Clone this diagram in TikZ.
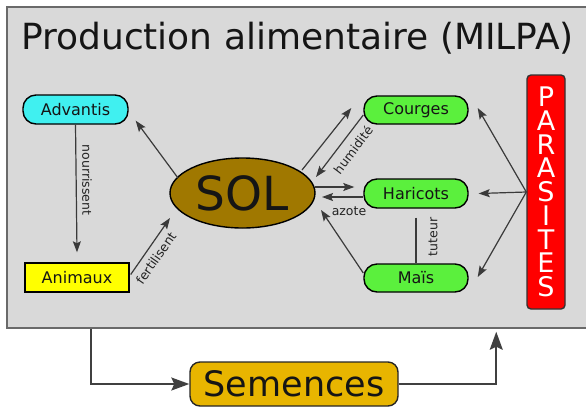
\documentclass[tikz,border=0pt]{standalone}
\usepackage{fontspec}
\setmainfont{DejaVu Sans}
\usetikzlibrary{arrows.meta,calc,shapes.geometric}
\definecolor{bggray}{HTML}{D9D9D9}
\definecolor{boxgray}{HTML}{6A6A6A}
\definecolor{advcyan}{HTML}{40F0F0}
\definecolor{aniyellow}{HTML}{FFFF00}
\definecolor{plantgreen}{HTML}{5BF03D}
\definecolor{solbrown}{HTML}{A07800}
\definecolor{semgold}{HTML}{E8B500}
\definecolor{parred}{HTML}{FF0000}
\definecolor{linkgray}{HTML}{3A3A3A}
\definecolor{darkline}{HTML}{404040}
\definecolor{labeltext}{HTML}{222222}
\definecolor{titletext}{HTML}{151515}
\begin{document}
\begin{tikzpicture}[x=1pt,y=-1pt,
  lnk/.style={draw=linkgray, line width=1.2pt, -{Stealth[length=11pt,width=8pt,inset=2pt]}},
  bigarrow/.style={draw=darkline, line width=1.8pt, -{Stealth[length=18pt,width=13pt,inset=3pt]}},
  pill/.style={draw=black, line width=1.4pt, rounded corners=13pt, minimum width=104pt, minimum height=29pt, inner sep=0pt, text=titletext, font=\fontsize{16}{18}\selectfont},
  lbl/.style={font=\fontsize{12.5}{14}\selectfont, text=labeltext, inner sep=1pt}
]
\useasboundingbox (0,0) rectangle (586,408);
% main frame
\node[draw=boxgray, line width=1.5pt, fill=bggray, minimum width=585pt, minimum height=321pt, inner sep=0pt] (box) at (299.5,167.5) {};
\node[anchor=base west, inner sep=0pt, text=titletext, font=\fontsize{36}{40}\selectfont] (title) at (21,49) {Production alimentaire (MILPA)};
% nodes
\node[pill, fill=advcyan, minimum width=105pt] (adv) at (75.5,109.5) {Advantis};
\node[draw=black, line width=1.4pt, fill=aniyellow, minimum width=104pt, minimum height=29pt, inner sep=0pt, text=titletext, font=\fontsize{16}{18}\selectfont] (ani) at (77,277.5) {Animaux};
\node[ellipse, draw=black, line width=1.4pt, fill=solbrown, minimum width=145pt, minimum height=70pt, inner sep=0pt, text=titletext, font=\fontsize{47}{50}\selectfont] (sol) at (242.5,193) {SOL};
\node[pill, fill=plantgreen, minimum height=28pt] (cou) at (416,110) {Courges};
\node[pill, fill=plantgreen] (har) at (416,193.5) {Haricots};
\node[pill, fill=plantgreen, minimum height=28pt] (mai) at (416,278) {Maïs};
\node[draw=black!80, line width=1.4pt, fill=parred, rounded corners=4pt, minimum width=38pt, minimum height=234pt, inner sep=0pt, text=white, align=center, font=\fontsize{27}{23.75}\selectfont] (par) at (546,192) {P\\A\\R\\A\\S\\I\\T\\E\\S};
\node[draw=black!85, line width=1.4pt, fill=semgold, rounded corners=10pt, minimum width=208pt, minimum height=44pt, inner sep=0pt, text=titletext, font=\fontsize{35}{40}\selectfont] (sem) at (294,384) {Semences};
% left links
\draw[lnk] ($(sol.center)+(-64.5,-15)$) -- ($(adv.south east)+(7,-4)$);
\draw[lnk] (adv.south) -- ($(ani.north)+(0,-10)$);
\draw[lnk] ($(ani.east)+(1,-3)$) -- ($(sol.center)+(-72.5,25)$);
\node[lbl, rotate=-90] (lnour) at (87,180) {nourrissent};
\node[lbl, rotate=55] (lfert) at (156,258) {fertilisent};
% right links
\draw[lnk] ($(sol.center)+(59.5,-23)$) -- ($(cou.west)+(-12,-2)$);
\draw[lnk] ($(cou.west)+(0,5)$) -- ($(sol.center)+(73.5,-16)$);
\draw[lnk] ($(sol.center)+(72.5,-6)$) -- ($(har.west)+(-9,-6.5)$);
\draw[lnk] ($(har.west)+(0,3.5)$) -- ($(sol.center)+(79.5,4)$);
\draw[lnk] ($(mai.west)+(0,-5)$) -- ($(sol.center)+(78.5,17)$);
\draw[draw=linkgray, line width=1.2pt] ($(har.south)+(0,9)$) -- (mai.north);
\node[lbl, rotate=53] (lhum) at (353,150) {humidité};
\node[lbl] (lazo) at (349,211) {azote};
\node[lbl, rotate=90] (ltut) at (433,237) {tuteur};
% parasites
\draw[lnk] (par.west) -- ($(cou.east)+(9,-2)$);
\draw[lnk] (par.west) -- ($(har.east)+(10,0)$);
\draw[lnk] (par.west) -- ($(mai.east)+(9,-1)$);
% bottom
\draw[bigarrow] ($(box.south west)+(85,0)$) |- (sem.west);
\draw[bigarrow] (sem.east) -| ($(box.south west)+(490,3)$);
\end{tikzpicture}
\end{document}
